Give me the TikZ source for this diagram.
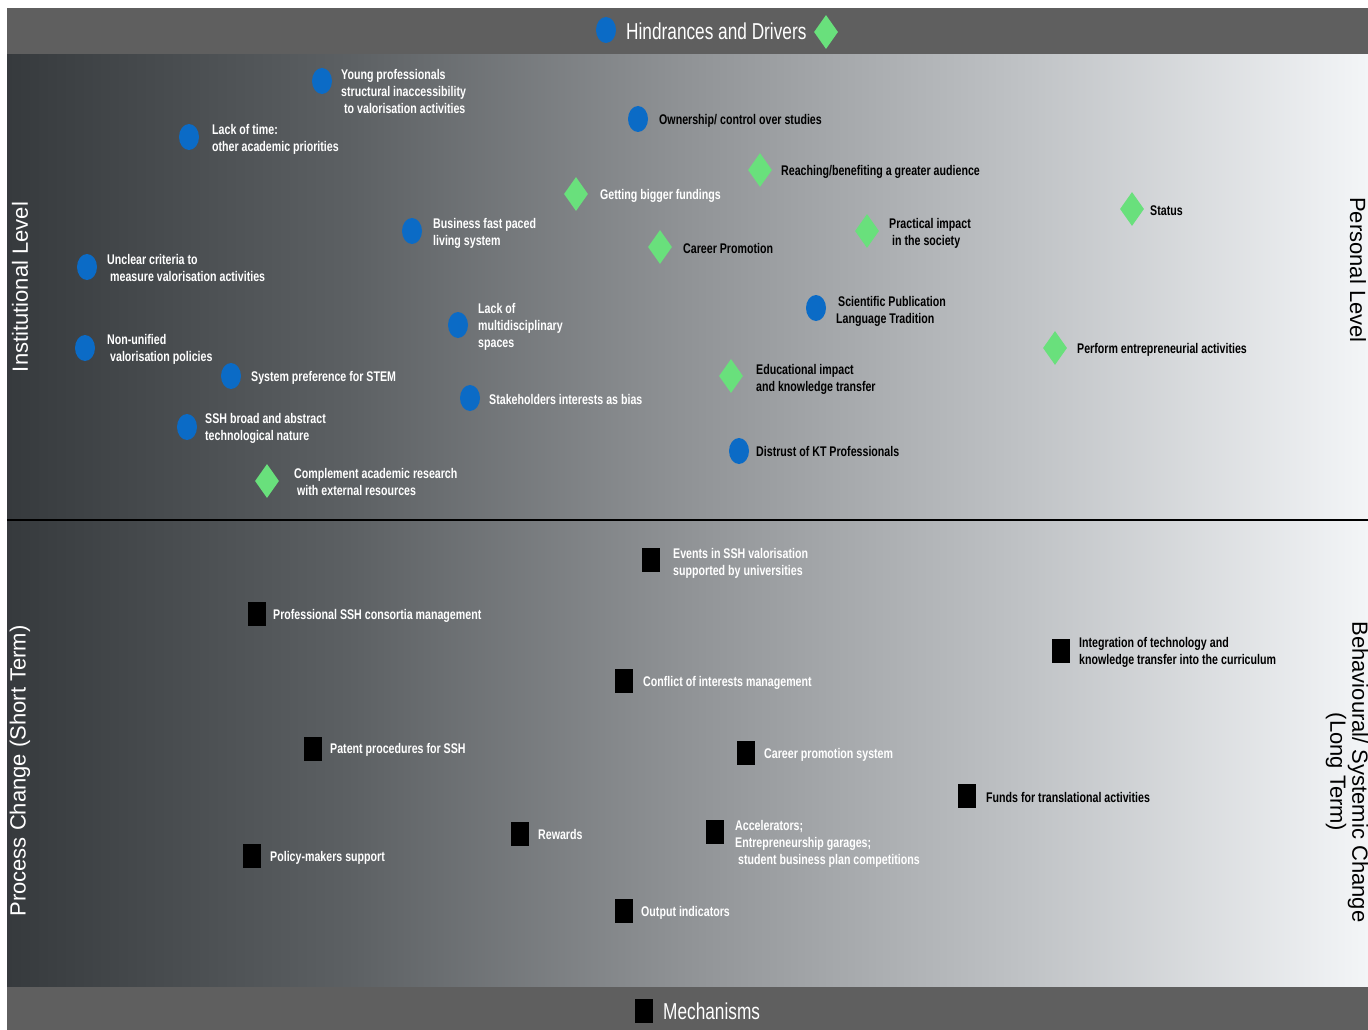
\documentclass[tikz,border=0pt]{standalone}
\usepackage{fontspec}
\setmainfont{Liberation Sans}
\newfontfamily\lblfont[FakeStretch=0.76]{Liberation Sans Bold}
\newfontfamily\ttlfont[FakeStretch=0.75]{Liberation Sans}
\usetikzlibrary{shapes.geometric}
\definecolor{mblue}{HTML}{0B6BC6}
\definecolor{mgreen}{HTML}{69E07C}
\definecolor{band}{HTML}{5F5F5F}
\definecolor{gA}{HTML}{363A3D}
\definecolor{gB}{HTML}{5C6063}
\definecolor{gC}{HTML}{909396}
\definecolor{gD}{HTML}{C0C3C6}
\definecolor{gE}{HTML}{F3F5F7}
% TikZ maps the path's bounding box to 25bp..75bp of the shading
\pgfdeclarehorizontalshading{bgshade}{100bp}{color(0bp)=(gA); color(25bp)=(gA); color(37.5bp)=(gB); color(50bp)=(gC); color(62.5bp)=(gD); color(75bp)=(gE); color(100bp)=(gE)}
\tikzset{
  hd/.style={ellipse, fill=mblue, minimum width=20pt, minimum height=26pt, inner sep=0pt},
  dr/.style={diamond, fill=mgreen, minimum width=24pt, minimum height=34pt, inner sep=0pt},
  mc/.style={rectangle, fill=black, minimum width=18pt, minimum height=24pt, inner sep=0pt},
  lw/.style={anchor=west, inner sep=0pt, yshift=-1.5pt, align=left, font=\lblfont\fontsize{14}{17}\selectfont, text=white},
  lb/.style={lw, text=black},
  side/.style={inner sep=0pt, align=center, font=\fontsize{22}{22}\selectfont},
  ttl/.style={anchor=west, inner sep=0pt, text=white, font=\ttlfont\fontsize{23}{26}\selectfont}
}
\begin{document}
\begin{tikzpicture}[x=1pt,y=-1pt]
\useasboundingbox (0,0) rectangle (1368,1030);
\fill[white] (0,0) rectangle (1368,1030);
% background
\fill[shading=bgshade] (7,54) rectangle (1368,987);
\fill[band] (7,8) rectangle (1368,54);
\fill[band] (7,987) rectangle (1368,1030);
\draw[black, line width=2pt] (7,520) -- (1368,520);
% header / footer
\node[hd] (hkey) at (606,30) {};
\node[ttl] (htxt) at (626,31) {Hindrances and Drivers};
\node[dr] (dkey) at (826,32) {};
\node[mc] (mkey) at (644,1011) {};
\node[ttl] (mtxt) at (663,1011) {Mechanisms};
% side labels
\node[side, text=white, rotate=90] (sl1) at (20,287) {Institutional Level};
\node[side, text=white, rotate=90] (sl2) at (20,771) {Process Change (Short Term)};
\node[side, text=black, rotate=-90] (sr1) at (1358,270) {Personal Level};
\node[side, text=black, rotate=-90] (sr2) at (1347,772) {Behavioural/ Systemic Change\\(Long Term)};
% hindrances and drivers
\node[hd] (h1) at (322,81) {};
\node[lw] (t1) at (341,90) {Young professionals\\structural inaccessibility\\\hspace*{3pt}to valorisation activities};
\node[hd] (h2) at (189,137) {};
\node[lw] (t2) at (212,138) {Lack of time:\\other academic priorities};
\node[hd] (h3) at (638,119) {};
\node[lb] (t3) at (659,119) {Ownership/ control over studies};
\node[dr] (d4) at (760,170) {};
\node[lb] (t4) at (781,170) {Reaching/benefiting a greater audience};
\node[dr] (d5) at (576,194) {};
\node[lw] (t5) at (600,194) {Getting bigger fundings};
\node[dr] (d6) at (1132,209) {};
\node[lb] (t6) at (1150,209) {Status};
\node[hd] (h7) at (412,231) {};
\node[lw] (t7) at (433,232) {Business fast paced\\living system};
\node[dr] (d8) at (867,231) {};
\node[lb] (t8) at (889,232) {Practical impact\\\hspace*{3pt}in the society};
\node[dr] (d9) at (660,247) {};
\node[lb] (t9) at (683,247) {Career Promotion};
\node[hd] (h10) at (87,267) {};
\node[lw] (t10) at (107,266) {Unclear criteria to\\\hspace*{3pt}measure valorisation activities};
\node[hd] (h11) at (816,308) {};
\node[lb] (t11) at (836,310) {\hspace*{2pt}Scientific Publication\\Language Tradition};
\node[hd] (h12) at (458,325) {};
\node[lw] (t12) at (478,325) {Lack of\\multidisciplinary\\spaces};
\node[hd] (h13) at (85,348) {};
\node[lw] (t13) at (107,348) {Non-unified\\\hspace*{3pt}valorisation policies};
\node[dr] (d14) at (1055,348) {};
\node[lb] (t14) at (1077,348) {Perform entrepreneurial activities};
\node[hd] (h15) at (231,376) {};
\node[lw] (t15) at (251,376) {System preference for STEM};
\node[dr] (d16) at (731,376) {};
\node[lb] (t16) at (756,378) {Educational impact\\and knowledge transfer};
\node[hd] (h17) at (470,398) {};
\node[lw] (t17) at (489,398) {Stakeholders interests as bias};
\node[hd] (h18) at (187,427) {};
\node[lw] (t18) at (205,427) {SSH broad and abstract\\technological nature};
\node[hd] (h19) at (739,451) {};
\node[lb] (t19) at (756,450) {Distrust of KT Professionals};
\node[dr] (d20) at (267,481) {};
\node[lw] (t20) at (294,480) {Complement academic research\\\hspace*{3pt}with external resources};
% mechanisms
\node[mc] (m21) at (651,560) {};
\node[lw] (t21) at (673,562) {Events in SSH valorisation\\supported by universities};
\node[mc] (m22) at (257,614) {};
\node[lw] (t22) at (273,614) {Professional SSH consortia management};
\node[mc] (m23) at (1061,651) {};
\node[lb] (t23) at (1079,651) {Integration of technology and\\knowledge transfer into the curriculum};
\node[mc] (m24) at (624,681) {};
\node[lw] (t24) at (643,681) {Conflict of interests management};
\node[mc] (m25) at (313,749) {};
\node[lw] (t25) at (330,748) {Patent procedures for SSH};
\node[mc] (m26) at (746,753) {};
\node[lw] (t26) at (764,753) {Career promotion system};
\node[mc] (m27) at (967,796) {};
\node[lb] (t27) at (986,796) {Funds for translational activities};
\node[mc] (m28) at (520,834) {};
\node[lw] (t28) at (538,833) {Rewards};
\node[mc] (m29) at (715,832) {};
\node[lw] (t29) at (735,842) {Accelerators;\\Entrepreneurship garages;\\\hspace*{3pt}student business plan competitions};
\node[mc] (m30) at (252,856) {};
\node[lw] (t30) at (270,856) {Policy-makers support};
\node[mc] (m31) at (624,911) {};
\node[lw] (t31) at (641,911) {Output indicators};
\end{tikzpicture}
\end{document}
